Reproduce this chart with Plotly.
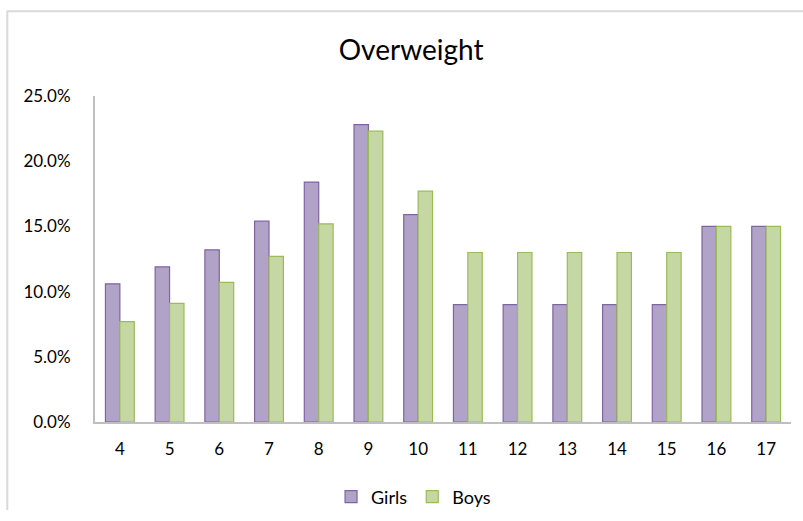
import plotly.graph_objects as go

ages = ["4", "5", "6", "7", "8", "9", "10", "11", "12", "13", "14", "15", "16", "17"]
girls = [10.6, 11.9, 13.2, 15.4, 18.4, 22.8, 15.9, 9.0, 9.0, 9.0, 9.0, 9.0, 15.0, 15.0]
boys = [7.7, 9.1, 10.7, 12.7, 15.2, 22.3, 17.7, 13.0, 13.0, 13.0, 13.0, 13.0, 15.0, 15.0]

font = "Lato, 'Open Sans', sans-serif"

fig = go.Figure()
fig.add_trace(go.Bar(x=ages, y=[v / 100 for v in girls], name="Girls",
                     marker=dict(color="#b1a3c7", line=dict(color="#8064a2", width=1.2))))
fig.add_trace(go.Bar(x=ages, y=[v / 100 for v in boys], name="Boys",
                     marker=dict(color="#c5d8a3", line=dict(color="#9bbb59", width=1.2))))

fig.update_layout(
    width=803, height=521,
    paper_bgcolor="white", plot_bgcolor="white",
    margin=dict(l=95, r=12, t=96, b=99, autoexpand=False),
    barmode="group", bargap=0.42, bargroupgap=0,
    title=dict(text="Overweight", xref="container", x=0.512, xanchor="center",
               yref="container", y=1 - 50 / 521, yanchor="middle",
               font=dict(family=font, size=28, color="#000000")),
    font=dict(family=font, size=17, color="#404040"),
    showlegend=True,
    legend=dict(orientation="h", xref="container", x=0.515, xanchor="center",
                yref="container", y=1 - 497 / 521, yanchor="middle",
                font=dict(family=font, size=18, color="#000000"), itemwidth=30),
    xaxis=dict(showline=True, linecolor="#bfbfbf", linewidth=2, showgrid=False,
               automargin=False, ticks="", tickfont=dict(size=17, color="#000000"),
               ticklabelstandoff=11),
    yaxis=dict(range=[0, 0.25], dtick=0.05, tickformat=".1%", showline=True,
               linecolor="#bfbfbf", linewidth=2, showgrid=False, zeroline=False,
               automargin=False, ticks="", tickfont=dict(size=17, color="#000000"),
               ticklabelstandoff=19),
)

fig.add_shape(type="line", xref="paper", yref="paper", x0=-0.127, x1=1.1, y0=1.26, y1=1.26,
              line=dict(color="#d9d9d9", width=2), layer="below")
fig.add_shape(type="line", xref="paper", yref="paper", x0=-0.126, x1=-0.126, y0=1.26, y1=-0.27,
              line=dict(color="#d9d9d9", width=2), layer="below")

fig.write_html("out.html", config={"displayModeBar": False},
               post_script="document.body.style.margin='0';")
